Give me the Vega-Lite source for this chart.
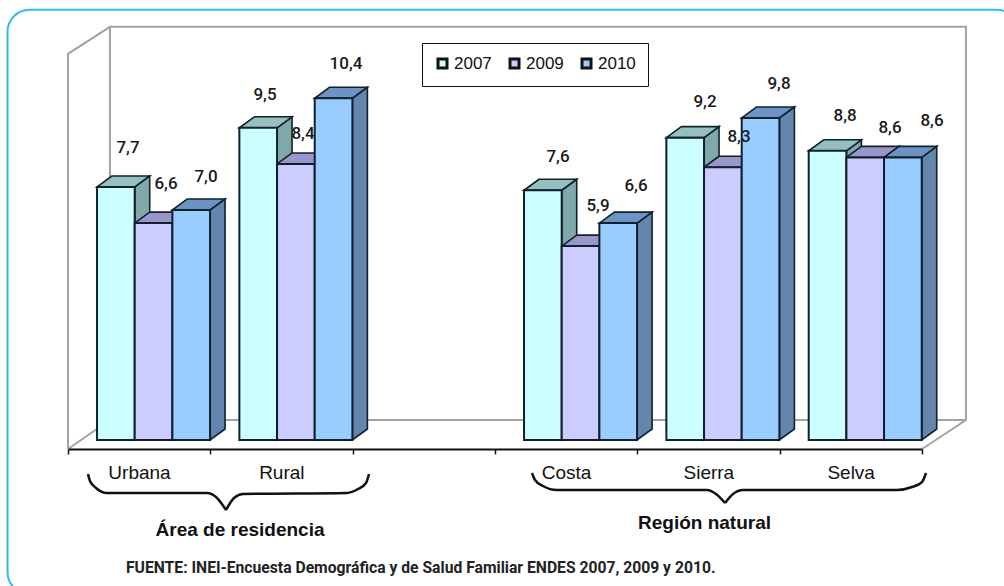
{
"$schema":"https://vega.github.io/schema/vega-lite/v6.json",
"autosize":{"type":"none"},
"padding":{"left":68,"right":82,"top":22,"bottom":137},
"width":854,"height":427,
"background":"white",
"config":{"view":{"stroke":null}},
"datasets":{
"barras":[
{"categoria":"Urbana","anio":"2007","valor":7.7},{"categoria":"Urbana","anio":"2009","valor":6.6},{"categoria":"Urbana","anio":"2010","valor":7.0},
{"categoria":"Rural","anio":"2007","valor":9.5},{"categoria":"Rural","anio":"2009","valor":8.4},{"categoria":"Rural","anio":"2010","valor":10.4},
{"categoria":"Costa","anio":"2007","valor":7.6},{"categoria":"Costa","anio":"2009","valor":5.9},{"categoria":"Costa","anio":"2010","valor":6.6},
{"categoria":"Sierra","anio":"2007","valor":9.2},{"categoria":"Sierra","anio":"2009","valor":8.3},{"categoria":"Sierra","anio":"2010","valor":9.8},
{"categoria":"Selva","anio":"2007","valor":8.8},{"categoria":"Selva","anio":"2009","valor":8.6},{"categoria":"Selva","anio":"2010","valor":8.6}
]},
"encoding":{
"x":{"field":"px","type":"quantitative","stack":null,"scale":{"domain":[0,6],"nice":false,"zero":false},
"axis":{"values":[0,1,2,3,4,5,6],"labelExpr":"['Urbana','Rural','','Costa','Sierra','Selva',''][datum.value]","labelOffset":71,"labelOverlap":false,"labelBound":false,"labelFlush":false,"grid":false,"title":null,"domainColor":"#111111","domainWidth":2,"tickColor":"#111111","tickWidth":1.5,"tickSize":5,"labelFont":"Liberation Sans","labelFontSize":19,"labelColor":"#111111","labelPadding":9,"zindex":1}},
"y":{"field":"py","type":"quantitative","stack":null,"scale":{"domain":[-0.274,12.72],"nice":false,"zero":false},"axis":null}
},
"layer":[
{"data":{"values":[{"px":-0.425,"px2":6.682,"py":13.09,"py2":-4.688}]},
"mark":{"type":"rect","cornerRadius":22,"fill":"white","stroke":"#33BBEE","strokeWidth":2},
"encoding":{"x2":{"field":"px2"},"y2":{"field":"py2"}}},
{"data":{"values":[
{"t":"a","o":1,"px":0,"py":-0.274},{"t":"a","o":2,"px":0,"py":11.75},{"t":"a","o":3,"px":0.2951,"py":12.572},{"t":"a","o":4,"px":6.3093,"py":12.572},{"t":"a","o":5,"px":6.3093,"py":0.609},{"t":"a","o":6,"px":6.0001,"py":-0.274},
{"t":"b","o":1,"px":0.2951,"py":12.572},{"t":"b","o":2,"px":0.2951,"py":0.609},
{"t":"c","o":1,"px":0,"py":-0.274},{"t":"c","o":2,"px":0.2951,"py":0.609},{"t":"c","o":3,"px":6.3093,"py":0.609}
]},
"mark":{"type":"line","color":"#a3a3a3","strokeWidth":2},
"encoding":{"detail":{"field":"t"},"order":{"field":"o","type":"quantitative"}}},
{"data":{"name":"barras"},
"transform":[
{"calculate":"indexof(['Urbana','Rural','','Costa','Sierra','Selva'],datum.categoria)+0.204+indexof(['2007','2009','2010'],datum.anio)*0.2647+0.2647","as":"x1"},
{"calculate":"[0,1]","as":"k"},{"flatten":["k"]},
{"calculate":"datum.x1+datum.k*0.1054","as":"px"},
{"calculate":"datum.valor+datum.k*0.335","as":"py"},
{"calculate":"datum.k*0.335","as":"py2"},
{"calculate":"datum.categoria+datum.anio","as":"clave"}],
"mark":{"type":"area","stroke":"#10202c","strokeWidth":1.6},
"encoding":{"y2":{"field":"py2"},"detail":{"field":"clave"},
"color":{"field":"anio","type":"nominal","legend":null,"scale":{"domain":["2007","2009","2010"],"range":["#7fa8a8","#8080ae","#6485ad"]}}}},
{"data":{"name":"barras"},
"transform":[
{"calculate":"indexof(['Urbana','Rural','','Costa','Sierra','Selva'],datum.categoria)+0.204+indexof(['2007','2009','2010'],datum.anio)*0.2647","as":"x0"},
{"calculate":"[0,1]","as":"k"},{"flatten":["k"]},
{"calculate":"datum.x0+datum.k*0.1054","as":"px"},
{"calculate":"datum.x0+0.2647+datum.k*0.1054","as":"px2"},
{"calculate":"datum.valor+datum.k*0.335","as":"py"},
{"calculate":"datum.categoria+datum.anio","as":"clave"}],
"mark":{"type":"area","orient":"horizontal","stroke":"#10202c","strokeWidth":1.6},
"encoding":{"x2":{"field":"px2"},"detail":{"field":"clave"},
"color":{"field":"anio","type":"nominal","legend":null,"scale":{"domain":["2007","2009","2010"],"range":["#96c0c0","#9a96cc","#6b94c4"]}}}},
{"data":{"name":"barras"},
"transform":[
{"calculate":"indexof(['Urbana','Rural','','Costa','Sierra','Selva'],datum.categoria)+0.204+indexof(['2007','2009','2010'],datum.anio)*0.2647","as":"px"},
{"calculate":"datum.px+0.2647","as":"px2"},
{"calculate":"datum.valor","as":"py"},
{"calculate":"0","as":"py2"}],
"mark":{"type":"rect","stroke":"#10202c","strokeWidth":2},
"encoding":{"x2":{"field":"px2"},"y2":{"field":"py2"},
"color":{"field":"anio","type":"nominal","scale":{"domain":["2007","2009","2010"],"range":["#ccffff","#ccccff","#99ccff"]},
"legend":{"orient":"none","legendX":354,"legendY":21,"direction":"horizontal","columns":3,"title":null,"strokeColor":"#111111","fillColor":"white","padding":12,"symbolType":"square","symbolSize":81,"symbolStrokeColor":"#111111","symbolStrokeWidth":3,"labelFont":"Liberation Sans","labelFontSize":17,"labelColor":"#111111","labelOffset":3,"columnPadding":12,"cornerRadius":0}}}},
{"data":{"values":[
{"t":"7,7","px":0.4216,"py":8.889},{"t":"6,6","px":0.6885,"py":7.793},{"t":"7,0","px":0.9696,"py":8.006},
{"t":"9,5","px":1.3841,"py":10.502},{"t":"8,4","px":1.6511,"py":9.315},{"t":"10,4","px":1.9532,"py":11.446},
{"t":"7,6","px":3.4427,"py":8.615},{"t":"5,9","px":3.7237,"py":7.123},{"t":"6,6","px":3.9907,"py":7.732},
{"t":"9,2","px":4.4755,"py":10.289},{"t":"8,3","px":4.7144,"py":9.224},{"t":"9,8","px":4.9954,"py":10.837},
{"t":"8,8","px":5.4592,"py":9.863},{"t":"8,6","px":5.7753,"py":9.498},{"t":"8,6","px":6.0703,"py":9.711}
]},
"mark":{"type":"text","font":"Roboto","fontSize":17,"fontWeight":500,"color":"#1a1a1a","align":"center","baseline":"middle"},
"encoding":{"text":{"field":"t"}}},
{"data":{"values":[
{"b":"a1","px":0.1405,"py":-1.035},{"b":"a1","px":0.1546,"py":-1.248},{"b":"a1","px":0.1967,"py":-1.461},{"b":"a1","px":0.274,"py":-1.613},{"b":"a1","px":0.9766,"py":-1.613},{"b":"a1","px":1.0398,"py":-1.735},{"b":"a1","px":1.1101,"py":-2.131},
{"b":"a2","px":1.1101,"py":-2.131},{"b":"a2","px":1.1663,"py":-1.766},{"b":"a2","px":1.2295,"py":-1.644},{"b":"a2","px":1.9602,"py":-1.613},{"b":"a2","px":2.0375,"py":-1.492},{"b":"a2","px":2.0937,"py":-1.309},{"b":"a2","px":2.1148,"py":-1.035},
{"b":"b1","px":3.26,"py":-1.005},{"b":"b1","px":3.2811,"py":-1.218},{"b":"b1","px":3.3373,"py":-1.4},{"b":"b1","px":3.4357,"py":-1.522},{"b":"b1","px":4.4896,"py":-1.522},{"b":"b1","px":4.5528,"py":-1.644},{"b":"b1","px":4.6161,"py":-1.918},
{"b":"b2","px":4.6161,"py":-1.918},{"b":"b2","px":4.6723,"py":-1.644},{"b":"b2","px":4.7425,"py":-1.522},{"b":"b2","px":5.8245,"py":-1.522},{"b":"b2","px":5.9299,"py":-1.431},{"b":"b2","px":6.0001,"py":-1.279},{"b":"b2","px":6.0282,"py":-1.005}
]},
"mark":{"type":"line","color":"#111111","strokeWidth":2.5,"interpolate":"monotone"},
"encoding":{"detail":{"field":"b"}}},
{"data":{"values":[{"t":"Área de residencia","px":1.2085,"py":-2.74},{"t":"Región natural","px":4.472,"py":-2.527}]},
"mark":{"type":"text","font":"Liberation Sans","fontSize":19,"fontWeight":"bold","color":"#111111","align":"center","baseline":"middle"},
"encoding":{"text":{"field":"t"}}},
{"data":{"values":[{"t":"FUENTE: INEI-Encuesta Demográfica y de Salud Familiar ENDES 2007, 2009 y 2010.","px":0.4075,"py":-3.896}]},
"mark":{"type":"text","font":"Roboto","fontSize":15.7,"fontWeight":"bold","color":"#222222","align":"left","baseline":"middle"},
"encoding":{"text":{"field":"t"}}}
],
"resolve":{"scale":{"color":"independent"}}
}
